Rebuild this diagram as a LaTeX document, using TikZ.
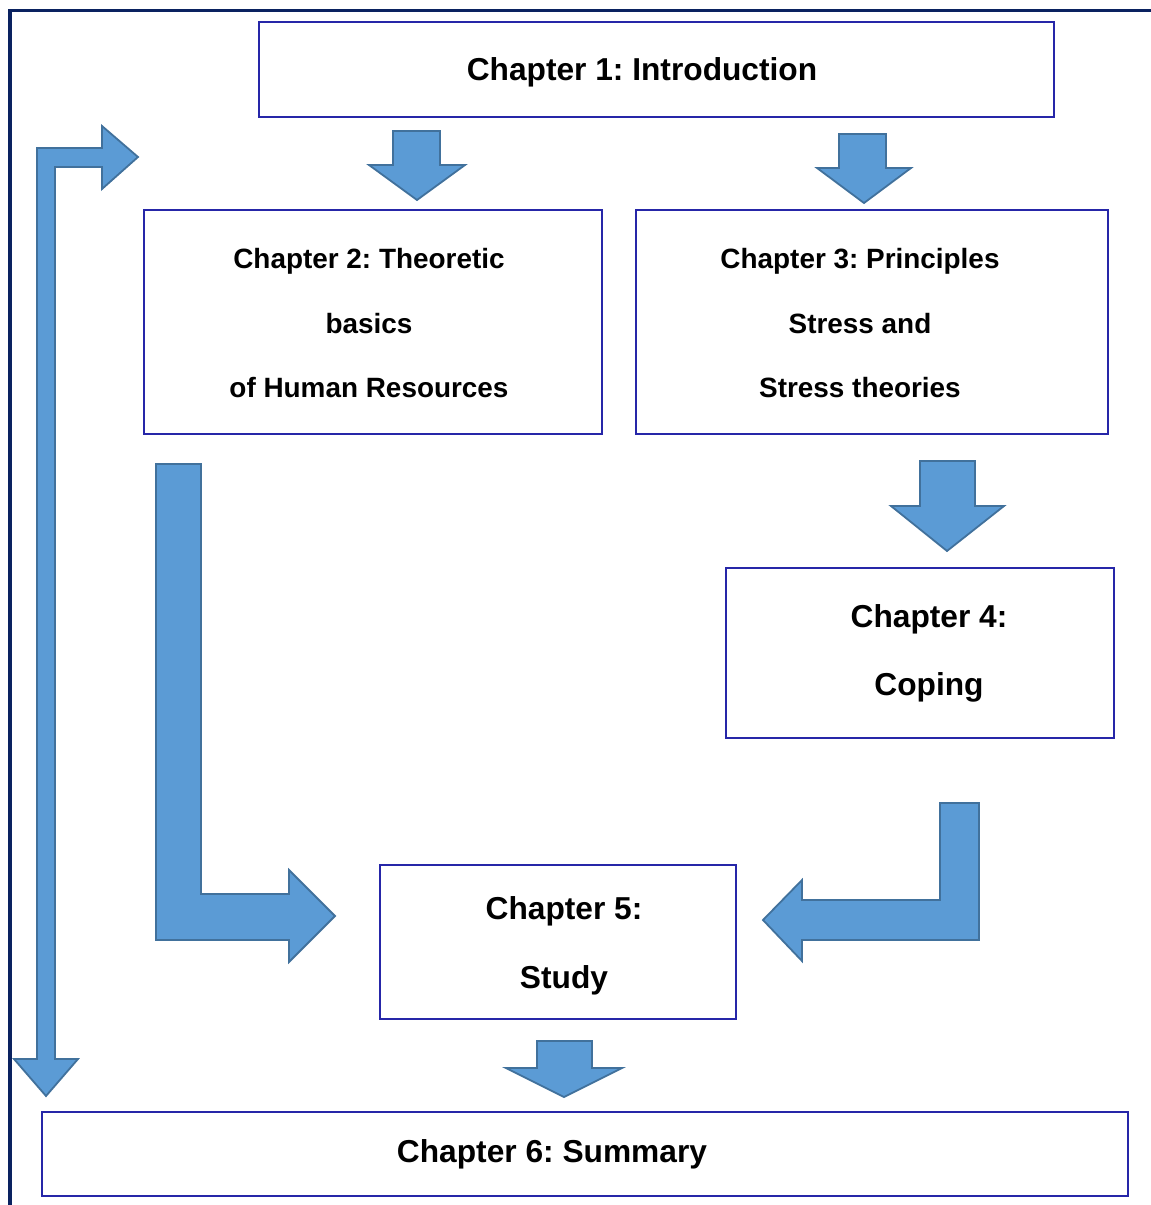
\documentclass[tikz,border=0pt]{standalone}
\usepackage{fontspec}
\setmainfont{Liberation Sans}
\frenchspacing
\definecolor{framecol}{HTML}{0A2260}
\definecolor{boxline}{HTML}{2626A8}
\definecolor{arrfill}{HTML}{5B9BD5}
\definecolor{arrline}{HTML}{41719C}
\tikzset{
  chbox/.style={draw=boxline, line width=1.3pt, fill=white, inner sep=0pt},
  blockarrow/.style={fill=arrfill, draw=arrline, line width=1.8pt, line join=miter},
  bigtext/.style={font=\fontsize{31.7}{38}\selectfont\bfseries\frenchspacing, inner sep=0pt, anchor=base},
  midtext/.style={font=\fontsize{27.9}{34}\selectfont\bfseries\frenchspacing, inner sep=0pt, anchor=base},
}
\begin{document}
\begin{tikzpicture}[x=1pt,y=-1pt]
\useasboundingbox (0,0) rectangle (1151,1205);
% outer frame
\draw[framecol, line width=3.5pt] (10,1210) -- (10,10.5) -- (1160,10.5);

% boxes
\node[chbox, minimum width=795pt, minimum height=95pt] (c1) at (656.5,69.5) {};
\node[chbox, minimum width=458pt, minimum height=224pt] (c2) at (373,322) {};
\node[chbox, minimum width=472pt, minimum height=224pt] (c3) at (872,322) {};
\node[chbox, minimum width=388pt, minimum height=170pt] (c4) at (920,653) {};
\node[chbox, minimum width=356pt, minimum height=154pt] (c5) at (558,942) {};
\node[chbox, minimum width=1086pt, minimum height=84pt] (c6) at (585,1154) {};

% texts
\node[bigtext] (t1) at (642,80.5) {Chapter 1: Introduction};
\node[midtext] (t2a) at (369,268) {Chapter 2: Theoretic};
\node[midtext] (t2b) at (369,333) {basics};
\node[midtext] (t2c) at (369,397) {of Human Resources};
\node[midtext] (t3a) at (860,268) {Chapter 3: Principles};
\node[midtext] (t3b) at (860,333) {Stress and};
\node[midtext] (t3c) at (860,397) {Stress theories};
\node[bigtext] (t4a) at (929,627) {Chapter 4:};
\node[bigtext] (t4b) at (929,695) {Coping};
\node[bigtext] (t5a) at (564,919) {Chapter 5:};
\node[bigtext] (t5b) at (564,988) {Study};
\node[bigtext] (t6) at (552,1162) {Chapter 6: Summary};

% down arrows
\draw[blockarrow] (393,131) -- (440,131) -- (440,165) -- (465,165) -- (417,200) -- (369,165) -- (393,165) -- cycle;
\draw[blockarrow] (839,134) -- (886,134) -- (886,168) -- (911,168) -- (864,203) -- (817,168) -- (839,168) -- cycle;
\draw[blockarrow] (920,461) -- (975,461) -- (975,506) -- (1004,506) -- (947,551) -- (891,506) -- (920,506) -- cycle;
\draw[blockarrow] (537,1041) -- (592,1041) -- (592,1068) -- (622,1068) -- (564,1097) -- (506,1068) -- (537,1068) -- cycle;

% L arrow from chapter 2 to chapter 5
\draw[blockarrow] (156,464) -- (201,464) -- (201,894) -- (289,894) -- (289,870) -- (335,916) -- (289,962) -- (289,940) -- (156,940) -- cycle;

% L arrow from chapter 4 to chapter 5
\draw[blockarrow] (940,803) -- (979,803) -- (979,940) -- (802,940) -- (802,961) -- (763,920) -- (802,880) -- (802,900) -- (940,900) -- cycle;

% long loop arrow on the left
\draw[blockarrow] (37,148) -- (102,148) -- (102,126) -- (138,157) -- (102,189) -- (102,167) -- (55,167) -- (55,1059) -- (78,1059) -- (46,1096) -- (14,1059) -- (37,1059) -- cycle;
\end{tikzpicture}
\end{document}
